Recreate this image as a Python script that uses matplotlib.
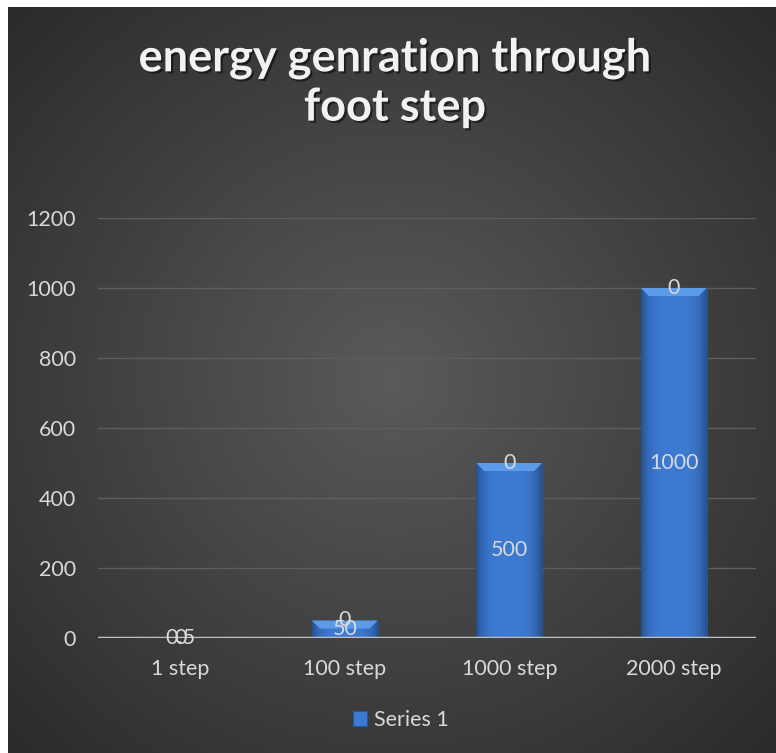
import numpy as np
import matplotlib
matplotlib.use("Agg")
import matplotlib.pyplot as plt
import matplotlib.patheffects as pe
from matplotlib.patches import Polygon

categories = ["1 step", "100 step", "1000 step", "2000 step"]
series1 = [0.5, 50, 500, 1000]
series2 = [0, 0, 0, 0]
yticks = [0, 200, 400, 600, 800, 1000, 1200]
title = "energy genration through\nfoot step"
legend_label = "Series 1"

W, H = 776, 753
fig = plt.figure(figsize=(W / 100, H / 100), dpi=100)
fig.patch.set_facecolor("white")

FS = 15.5

# background panel with radial gradient
bx0, by1 = 8 / W, 1 - 7 / H
bg = fig.add_axes([bx0, 0, 1 - bx0, by1])
bg.set_axis_off()
yy, xx = np.mgrid[0:1:400j, 0:1:400j]
r = np.sqrt(((xx - 0.5) / 0.75) ** 2 + ((yy - 0.5) / 0.75) ** 2)
r = np.clip(r, 0, 1)
c_in = np.array([0x5a, 0x5a, 0x5a]) / 255
c_out = np.array([0x28, 0x28, 0x28]) / 255
img = c_in[None, None, :] * (1 - r[..., None]) + c_out[None, None, :] * r[..., None]
bg.imshow(img, extent=[0, 1, 0, 1], aspect="auto", origin="lower")
bg.set_xlim(0, 1)
bg.set_ylim(0, 1)

ax = fig.add_axes([98 / W, 115 / H, 658 / W, 420 / H])
ax.patch.set_alpha(0)
x = np.arange(len(categories))

for s in ax.spines.values():
    s.set_visible(False)
ax.set_yticks(yticks)
ax.yaxis.grid(True, color="#5e5e5e", linewidth=1.0)
ax.set_axisbelow(True)
ax.tick_params(axis="both", length=0, labelcolor="#d9d9d9", labelsize=FS)
ax.tick_params(axis="y", pad=16)
ax.tick_params(axis="x", pad=15)
ax.set_xticks(x)
ax.set_xticklabels(categories)
for lab in ax.get_xticklabels() + ax.get_yticklabels():
    lab.set_fontfamily("Lato")

bars = ax.bar(x, series1, width=0.4, color="#3c7ad3", edgecolor="#2a5596",
              linewidth=0.8, zorder=3, label=legend_label)
ax.bar(x, series2, width=0.4, bottom=series1, color="#3c7ad3", zorder=3)

# horizontal shading + top bevel for each bar
grad = np.linspace(-1, 1, 200)
shade = 1 - 0.35 * grad ** 4
base = np.array([0x3c, 0x7a, 0xd3]) / 255
gimg = np.clip(base[None, None, :] * shade[None, :, None], 0, 1)
ppy = 1200 / 420  # data units per pixel
for b in bars:
    x0, w, h = b.get_x(), b.get_width(), b.get_height()
    if h <= 0:
        continue
    im = ax.imshow(gimg, extent=[x0, x0 + w, 0, h], aspect="auto", zorder=3.1)
    im.set_clip_path(b)
    bev = min(8 * ppy, h / 2)
    bx = min(8 / 164.5, w / 4)
    top = Polygon([[x0, h], [x0 + w, h], [x0 + w - bx, h - bev], [x0 + bx, h - bev]],
                  closed=True, facecolor="#5c9be8", edgecolor="none", zorder=3.2)
    ax.add_patch(top)
ax.set_xlim(-0.5, len(categories) - 0.5)
ax.set_ylim(0, 1200)

# axis line
ax.axhline(0, color="#c0c0c0", linewidth=2.5, zorder=4)

# data labels
for xi, v, z in zip(x, series1, series2):
    ax.text(xi, v / 2, f"{v:g}", ha="center", va="center", color="#d9d9d9",
            fontsize=FS, family="Lato", zorder=5)
    ax.text(xi, v + z / 2, f"{z:g}", ha="center", va="center", color="#d9d9d9",
            fontsize=FS, family="Lato", zorder=5)

fig.text(395 / W, 1 - 83 / H, title, ha="center", va="center", color="#f2f2f2",
         fontsize=32.5, fontweight="bold", family="Lato", linespacing=1.2,
         path_effects=[pe.withSimplePatchShadow(offset=(1.5, -1.5),
                                                shadow_rgbFace="black", alpha=0.5)])

leg = fig.legend(handles=[bars], labels=[legend_label], loc="center",
                 bbox_to_anchor=(401 / W, 1 - 720 / H), frameon=False,
                 handlelength=0.65, handleheight=0.65, handletextpad=0.3,
                 prop={"family": "Lato", "size": FS})
for t in leg.get_texts():
    t.set_color("#d9d9d9")

fig.savefig("out.png", dpi=100, facecolor=fig.get_facecolor())
